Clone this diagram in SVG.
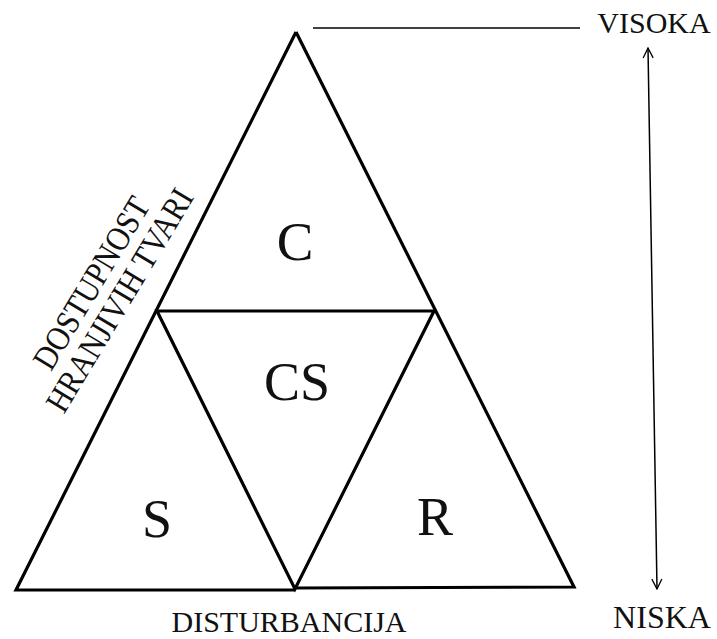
<svg xmlns="http://www.w3.org/2000/svg" width="717" height="639" viewBox="0 0 717 639">
<style>
.t{font-family:"Liberation Serif","Times New Roman",serif;fill:#111}
.tri{fill:none;stroke:#000;stroke-width:3.2;stroke-linejoin:miter}
.thin{fill:none;stroke:#000;stroke-width:1.5}
</style>
<defs>
<marker id="ah" viewBox="0 0 12 12" refX="11" refY="6" markerWidth="12" markerHeight="12" markerUnits="userSpaceOnUse" orient="auto-start-reverse">
<path d="M1,1 L11,6 L1,11" fill="none" stroke="#000" stroke-width="1.3"/>
</marker>
</defs>
<rect width="717" height="639" fill="#fff"/>
<g id="triangle">
<path class="tri" d="M296,32 L16,590 L295,590 M295,588 L574,587 L296,32"/>
<path class="tri" d="M157,311 L434,311 L295,589 Z"/>
</g>
<g id="connectors">
<line class="thin" x1="313" y1="28" x2="580" y2="28"/>
<line class="thin" x1="648" y1="48" x2="657" y2="589" marker-start="url(#ah)" marker-end="url(#ah)"/>
</g>
<g id="node-C"><text class="t" x="295" y="260" font-size="55" text-anchor="middle">C</text></g>
<g id="node-CS"><text class="t" x="297" y="400" font-size="54" text-anchor="middle">CS</text></g>
<g id="node-S"><text class="t" x="157" y="537" font-size="54" text-anchor="middle">S</text></g>
<g id="node-R"><text class="t" x="435" y="535" font-size="54" text-anchor="middle">R</text></g>
<g id="labels">
<text class="t" x="654" y="33" font-size="30" text-anchor="middle">VISOKA</text>
<text class="t" x="662" y="628" font-size="32" text-anchor="middle">NISKA</text>
<text class="t" x="289" y="632" font-size="30" text-anchor="middle">DISTURBANCIJA</text>
<g transform="translate(101,289) rotate(-59) scale(0.88,1)">
<text class="t" x="0" y="0" font-size="34" text-anchor="middle">DOSTUPNOST</text>
<text class="t" x="0" y="33" font-size="34" text-anchor="middle">HRANJIVIH TVARI</text>
</g>
</g>
</svg>
